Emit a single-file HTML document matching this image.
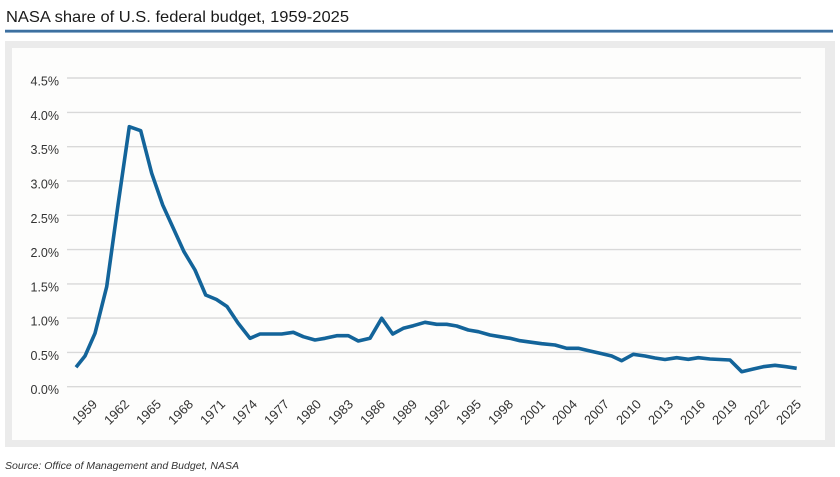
<!DOCTYPE html>
<html>
<head>
<meta charset="utf-8">
<style>
html,body{margin:0;padding:0;background:#fff;}
body{width:840px;height:477px;overflow:hidden;}
svg{display:block;}
text{font-family:"Liberation Sans",sans-serif;}
</style>
</head>
<body>
<svg width="840" height="477" viewBox="0 0 840 477" xmlns="http://www.w3.org/2000/svg">
  <rect x="0" y="0" width="840" height="477" fill="#ffffff"/>
  <!-- Title -->
  <text x="6" y="22" font-size="16" fill="#1a1a1a" textLength="343" lengthAdjust="spacingAndGlyphs">NASA share of U.S. federal budget, 1959-2025</text>
  <!-- Rule -->
  <rect x="5" y="30" width="828" height="2.4" fill="#3d70a0"/>
  <rect x="5" y="29.4" width="828" height="0.6" fill="#a9c3dc"/>
  <rect x="5" y="32.4" width="828" height="0.6" fill="#a9c3dc"/>
  <!-- Frame -->
  <rect x="5" y="41" width="830" height="406" fill="#ebebeb"/>
  <rect x="12" y="48" width="813" height="392" fill="#fdfdfc"/>
  <!-- Gridlines -->
  <g stroke="#d9d9d9" stroke-width="1.4">
    <line x1="67" y1="78" x2="801" y2="78"/>
    <line x1="67" y1="112.4" x2="801" y2="112.4"/>
    <line x1="67" y1="146.7" x2="801" y2="146.7"/>
    <line x1="67" y1="181" x2="801" y2="181"/>
    <line x1="67" y1="215.3" x2="801" y2="215.3"/>
    <line x1="67" y1="249.6" x2="801" y2="249.6"/>
    <line x1="67" y1="283.9" x2="801" y2="283.9"/>
    <line x1="67" y1="318.1" x2="801" y2="318.1"/>
    <line x1="67" y1="352.4" x2="801" y2="352.4"/>
    <line x1="67" y1="386.7" x2="801" y2="386.7"/>
  </g>
  <!-- Y labels -->
  <g font-size="12.5" fill="#333" text-anchor="end">
    <text x="59" y="85.5">4.5%</text>
    <text x="59" y="119.9">4.0%</text>
    <text x="59" y="154.2">3.5%</text>
    <text x="59" y="188.5">3.0%</text>
    <text x="59" y="222.8">2.5%</text>
    <text x="59" y="257.1">2.0%</text>
    <text x="59" y="291.4">1.5%</text>
    <text x="59" y="325.6">1.0%</text>
    <text x="59" y="359.9">0.5%</text>
    <text x="59" y="394.2">0.0%</text>
  </g>
  <!-- X labels -->
  <g font-size="13" fill="#333" text-anchor="end">
    <text transform="translate(98,405) rotate(-45)">1959</text>
    <text transform="translate(130,405) rotate(-45)">1962</text>
    <text transform="translate(162,405) rotate(-45)">1965</text>
    <text transform="translate(194,405) rotate(-45)">1968</text>
    <text transform="translate(226,405) rotate(-45)">1971</text>
    <text transform="translate(258,405) rotate(-45)">1974</text>
    <text transform="translate(290,405) rotate(-45)">1977</text>
    <text transform="translate(322,405) rotate(-45)">1980</text>
    <text transform="translate(354,405) rotate(-45)">1983</text>
    <text transform="translate(386,405) rotate(-45)">1986</text>
    <text transform="translate(418,405) rotate(-45)">1989</text>
    <text transform="translate(450,405) rotate(-45)">1992</text>
    <text transform="translate(482,405) rotate(-45)">1995</text>
    <text transform="translate(514,405) rotate(-45)">1998</text>
    <text transform="translate(546,405) rotate(-45)">2001</text>
    <text transform="translate(578,405) rotate(-45)">2004</text>
    <text transform="translate(610,405) rotate(-45)">2007</text>
    <text transform="translate(642,405) rotate(-45)">2010</text>
    <text transform="translate(674,405) rotate(-45)">2013</text>
    <text transform="translate(706,405) rotate(-45)">2016</text>
    <text transform="translate(738,405) rotate(-45)">2019</text>
    <text transform="translate(770,405) rotate(-45)">2022</text>
    <text transform="translate(802,405) rotate(-45)">2025</text>
  </g>
  <!-- Series -->
  <polyline fill="none" stroke="#13649a" stroke-width="3.6" stroke-linejoin="round" stroke-linecap="butt"
    points="76,367.3 85,356 95,333.3 106.7,286.7 118,205 129.3,126.7 140.7,130.7 151.7,173.3 162.7,205 173.3,228.3 184,251.7 195,270 205.7,295 216.5,299.5 227,306.5 238,323 250,338.3 260,334 271.7,334 281.7,334 293.3,332.3 303.3,336.7 315,340 325,338.3 336.7,335.7 348.3,335.7 358.3,341 370,338.3 381.7,318.3 392.7,334 403.3,328.3 413.3,325.7 425,322.3 436.7,324.3 446.7,324.3 456.7,326 468.3,330 478.3,331.7 490,335 500,336.7 510,338.3 520,340.7 531.7,342.3 541.7,343.7 555,345 566.7,348.3 578.3,348.3 590,351 600,353.3 611.7,356 621.7,360.7 633.3,354.3 645,356 655,358 665,359.5 676.7,357.7 688.3,359.3 698.3,357.7 710,359 720,359.5 730,360 741.7,371.7 753.3,369 763.3,366.7 775,365.3 786,366.7 796.7,368.3"/>
  <!-- Source -->
  <text x="5" y="469" font-size="10.5" font-style="italic" fill="#333" textLength="234" lengthAdjust="spacingAndGlyphs">Source: Office of Management and Budget, NASA</text>
</svg>
</body>
</html>
